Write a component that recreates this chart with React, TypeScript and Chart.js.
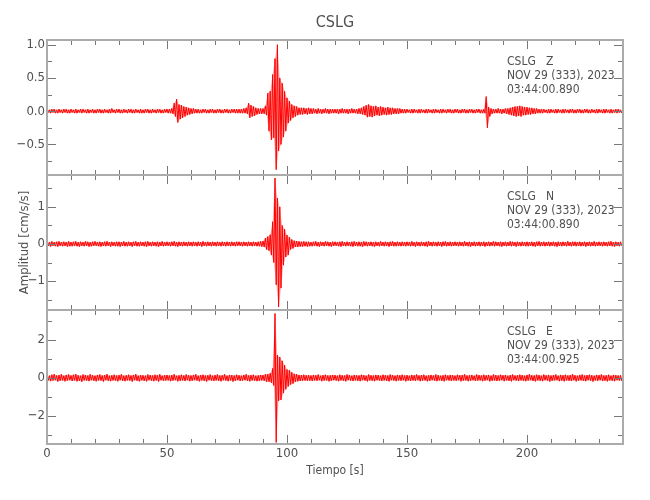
import React, { useEffect, useRef } from 'react';
import { Chart, registerables } from 'chart.js';

Chart.register(...registerables);

// ---------- text ----------
const TITLE = 'CSLG';
const X_TITLE = 'Tiempo [s]';
const Y_TITLE = 'Amplitud [cm/s/s]';
const Z_INFO = ['CSLG   Z', 'NOV 29 (333), 2023', '03:44:00.890'];
const N_INFO = ['CSLG   N', 'NOV 29 (333), 2023', '03:44:00.890'];
const E_INFO = ['CSLG   E', 'NOV 29 (333), 2023', '03:44:00.925'];

// ---------- x axis ----------
const X_MIN = 0;
const X_MAX = 240;
const X_TICKS = [0, 50, 100, 150, 200];
const X_MINOR = [0, 10, 20, 30, 40, 50, 60, 70, 80, 90, 100, 110, 120, 130, 140, 150, 160, 170, 180, 190, 200, 210, 220, 230, 240];
const BIN_S = 1; // each entry below = peak up / peak down within one second

// ---------- y axes ----------
const Z_RANGE = [-0.96, 1.07];
const Z_TICKS = [-0.5, 0, 0.5, 1];
const Z_TICK_LABELS = ['\u22120.5', '0.0', '0.5', '1.0'];
const Z_MINOR = [-0.75, -0.25, 0.25, 0.75];

const N_RANGE = [-1.78, 1.86];
const N_TICKS = [-1, 0, 1];
const N_TICK_LABELS = ['\u22121', '0', '1'];
const N_MINOR = [-1.5, -0.5, 0.5, 1.5];

const E_RANGE = [-3.48, 3.58];
const E_TICKS = [-2, 0, 2];
const E_TICK_LABELS = ['\u22122', '0', '2'];
const E_MINOR = [-3, -1, 1, 3];

// ---------- Z component (peak up / peak down per second) ----------
const Z_UP = [
  0.03, 0.02, 0.03, 0.03, 0.02, 0.03, 0.02, 0.03, 0.03, 0.02,
  0.03, 0.02, 0.03, 0.02, 0.03, 0.03, 0.02, 0.03, 0.02, 0.03,
  0.02, 0.03, 0.03, 0.02, 0.03, 0.02, 0.03, 0.04, 0.02, 0.03,
  0.03, 0.02, 0.03, 0.02, 0.03, 0.03, 0.02, 0.03, 0.02, 0.03,
  0.02, 0.03, 0.03, 0.02, 0.03, 0.02, 0.03, 0.03, 0.02, 0.03,
  0.03, 0.03, 0.04, 0.12, 0.18, 0.10, 0.09, 0.07, 0.06, 0.05,
  0.04, 0.04, 0.03, 0.03, 0.02, 0.03, 0.03, 0.02, 0.03, 0.03,
  0.02, 0.03, 0.03, 0.02, 0.03, 0.03, 0.02, 0.03, 0.03, 0.03,
  0.03, 0.03, 0.04, 0.05, 0.12, 0.09, 0.07, 0.05, 0.04, 0.04,
  0.04, 0.08, 0.27, 0.30, 0.55, 0.79, 1.00, 0.50, 0.42, 0.30,
  0.20, 0.15, 0.10, 0.08, 0.07, 0.05, 0.05, 0.05, 0.04, 0.05,
  0.04, 0.04, 0.03, 0.04, 0.03, 0.03, 0.04, 0.03, 0.03, 0.03,
  0.03, 0.03, 0.03, 0.04, 0.03, 0.03, 0.03, 0.04, 0.03, 0.03,
  0.04, 0.05, 0.07, 0.09, 0.10, 0.08, 0.07, 0.08, 0.06, 0.07,
  0.06, 0.05, 0.06, 0.05, 0.05, 0.04, 0.04, 0.04, 0.03, 0.03,
  0.03, 0.02, 0.03, 0.03, 0.02, 0.03, 0.03, 0.02, 0.03, 0.03,
  0.02, 0.03, 0.03, 0.02, 0.03, 0.03, 0.02, 0.03, 0.03, 0.02,
  0.03, 0.03, 0.02, 0.03, 0.03, 0.02, 0.03, 0.03, 0.02, 0.03,
  0.03, 0.02, 0.03, 0.22, 0.06, 0.04, 0.03, 0.03, 0.04, 0.03,
  0.03, 0.04, 0.04, 0.05, 0.06, 0.07, 0.07, 0.08, 0.07, 0.06,
  0.06, 0.05, 0.05, 0.04, 0.04, 0.03, 0.03, 0.03, 0.02, 0.03,
  0.03, 0.02, 0.03, 0.03, 0.02, 0.03, 0.03, 0.02, 0.03, 0.03,
  0.02, 0.03, 0.03, 0.02, 0.03, 0.03, 0.02, 0.03, 0.02, 0.03,
  0.03, 0.02, 0.03, 0.03, 0.02, 0.03, 0.02, 0.03, 0.03, 0.02,
];
const Z_DOWN = [
  -0.02, -0.03, -0.02, -0.03, -0.03, -0.02, -0.03, -0.02, -0.03, -0.03,
  -0.02, -0.03, -0.03, -0.02, -0.03, -0.02, -0.03, -0.03, -0.02, -0.03,
  -0.03, -0.02, -0.03, -0.03, -0.02, -0.03, -0.03, -0.02, -0.03, -0.02,
  -0.03, -0.03, -0.02, -0.03, -0.02, -0.03, -0.03, -0.02, -0.03, -0.03,
  -0.03, -0.02, -0.03, -0.03, -0.02, -0.03, -0.02, -0.03, -0.03, -0.02,
  -0.03, -0.03, -0.04, -0.08, -0.17, -0.12, -0.10, -0.08, -0.06, -0.05,
  -0.04, -0.03, -0.03, -0.03, -0.03, -0.02, -0.03, -0.03, -0.02, -0.03,
  -0.03, -0.02, -0.03, -0.03, -0.02, -0.03, -0.03, -0.02, -0.03, -0.03,
  -0.03, -0.03, -0.03, -0.04, -0.10, -0.08, -0.07, -0.05, -0.04, -0.04,
  -0.04, -0.06, -0.30, -0.43, -0.40, -0.88, -0.60, -0.50, -0.39, -0.30,
  -0.18, -0.14, -0.10, -0.08, -0.06, -0.05, -0.05, -0.04, -0.05, -0.04,
  -0.04, -0.03, -0.04, -0.03, -0.04, -0.03, -0.03, -0.04, -0.03, -0.03,
  -0.03, -0.04, -0.03, -0.03, -0.03, -0.04, -0.03, -0.03, -0.03, -0.04,
  -0.04, -0.05, -0.06, -0.09, -0.08, -0.09, -0.07, -0.06, -0.07, -0.06,
  -0.05, -0.06, -0.05, -0.05, -0.04, -0.04, -0.04, -0.03, -0.03, -0.03,
  -0.02, -0.03, -0.03, -0.02, -0.03, -0.03, -0.02, -0.03, -0.03, -0.02,
  -0.03, -0.03, -0.02, -0.03, -0.03, -0.02, -0.03, -0.02, -0.03, -0.03,
  -0.02, -0.03, -0.03, -0.02, -0.03, -0.03, -0.02, -0.03, -0.03, -0.02,
  -0.03, -0.03, -0.03, -0.25, -0.08, -0.04, -0.03, -0.03, -0.03, -0.04,
  -0.03, -0.04, -0.05, -0.06, -0.07, -0.08, -0.07, -0.08, -0.06, -0.06,
  -0.05, -0.05, -0.04, -0.04, -0.03, -0.03, -0.03, -0.02, -0.03, -0.03,
  -0.02, -0.03, -0.03, -0.02, -0.03, -0.03, -0.02, -0.03, -0.02, -0.03,
  -0.03, -0.02, -0.03, -0.03, -0.02, -0.03, -0.03, -0.02, -0.03, -0.03,
  -0.02, -0.03, -0.03, -0.02, -0.03, -0.03, -0.02, -0.03, -0.02, -0.03,
];

// ---------- N component ----------
const N_UP = [
  0.06, 0.05, 0.07, 0.05, 0.06, 0.07, 0.05, 0.06, 0.05, 0.07,
  0.05, 0.06, 0.07, 0.05, 0.06, 0.05, 0.07, 0.06, 0.05, 0.06,
  0.07, 0.05, 0.06, 0.05, 0.06, 0.07, 0.05, 0.06, 0.05, 0.06,
  0.06, 0.05, 0.07, 0.05, 0.06, 0.05, 0.06, 0.07, 0.05, 0.06,
  0.05, 0.06, 0.07, 0.05, 0.06, 0.05, 0.06, 0.05, 0.07, 0.05,
  0.06, 0.05, 0.06, 0.07, 0.05, 0.06, 0.05, 0.06, 0.05, 0.06,
  0.05, 0.06, 0.05, 0.06, 0.05, 0.07, 0.05, 0.06, 0.05, 0.06,
  0.05, 0.06, 0.05, 0.06, 0.05, 0.06, 0.05, 0.06, 0.05, 0.06,
  0.06, 0.05, 0.06, 0.05, 0.06, 0.05, 0.06, 0.05, 0.06, 0.07,
  0.08, 0.16, 0.20, 0.25, 0.60, 1.78, 1.24, 1.00, 0.50, 0.40,
  0.24, 0.18, 0.12, 0.09, 0.08, 0.07, 0.06, 0.07, 0.06, 0.06,
  0.05, 0.06, 0.07, 0.05, 0.06, 0.05, 0.07, 0.06, 0.05, 0.06,
  0.06, 0.05, 0.06, 0.07, 0.05, 0.06, 0.05, 0.06, 0.07, 0.05,
  0.06, 0.05, 0.07, 0.06, 0.05, 0.06, 0.05, 0.06, 0.05, 0.07,
  0.05, 0.06, 0.05, 0.06, 0.07, 0.05, 0.06, 0.05, 0.06, 0.05,
  0.06, 0.05, 0.07, 0.05, 0.06, 0.05, 0.06, 0.05, 0.06, 0.07,
  0.05, 0.06, 0.05, 0.06, 0.05, 0.06, 0.07, 0.05, 0.06, 0.05,
  0.06, 0.05, 0.06, 0.05, 0.07, 0.05, 0.06, 0.05, 0.06, 0.05,
  0.06, 0.05, 0.06, 0.05, 0.06, 0.05, 0.07, 0.06, 0.05, 0.06,
  0.05, 0.06, 0.05, 0.07, 0.06, 0.05, 0.06, 0.05, 0.06, 0.05,
  0.06, 0.05, 0.06, 0.05, 0.06, 0.07, 0.05, 0.06, 0.05, 0.06,
  0.05, 0.06, 0.05, 0.06, 0.05, 0.06, 0.05, 0.07, 0.05, 0.06,
  0.06, 0.05, 0.06, 0.05, 0.06, 0.05, 0.06, 0.05, 0.07, 0.05,
  0.06, 0.05, 0.06, 0.05, 0.06, 0.07, 0.05, 0.06, 0.05, 0.06,
];
const N_DOWN = [
  -0.05, -0.07, -0.05, -0.06, -0.07, -0.05, -0.06, -0.05, -0.07, -0.06,
  -0.06, -0.05, -0.06, -0.07, -0.05, -0.06, -0.05, -0.07, -0.06, -0.05,
  -0.05, -0.06, -0.07, -0.05, -0.06, -0.05, -0.07, -0.05, -0.06, -0.06,
  -0.07, -0.05, -0.06, -0.06, -0.05, -0.07, -0.05, -0.06, -0.06, -0.05,
  -0.06, -0.07, -0.05, -0.06, -0.05, -0.06, -0.07, -0.05, -0.06, -0.05,
  -0.05, -0.06, -0.05, -0.06, -0.07, -0.05, -0.06, -0.05, -0.06, -0.05,
  -0.06, -0.05, -0.06, -0.05, -0.07, -0.05, -0.06, -0.05, -0.06, -0.05,
  -0.06, -0.05, -0.06, -0.05, -0.06, -0.05, -0.06, -0.05, -0.06, -0.05,
  -0.05, -0.06, -0.05, -0.06, -0.05, -0.06, -0.05, -0.06, -0.06, -0.07,
  -0.08, -0.15, -0.18, -0.30, -0.50, -1.10, -1.70, -1.19, -0.57, -0.35,
  -0.30, -0.15, -0.12, -0.08, -0.08, -0.07, -0.07, -0.06, -0.07, -0.06,
  -0.06, -0.05, -0.06, -0.07, -0.05, -0.06, -0.05, -0.06, -0.07, -0.05,
  -0.05, -0.06, -0.07, -0.05, -0.06, -0.05, -0.06, -0.07, -0.05, -0.06,
  -0.06, -0.07, -0.05, -0.06, -0.05, -0.06, -0.07, -0.05, -0.06, -0.05,
  -0.06, -0.05, -0.07, -0.05, -0.06, -0.06, -0.05, -0.06, -0.05, -0.06,
  -0.05, -0.06, -0.05, -0.07, -0.05, -0.06, -0.05, -0.06, -0.07, -0.05,
  -0.06, -0.05, -0.06, -0.05, -0.07, -0.05, -0.06, -0.05, -0.06, -0.05,
  -0.05, -0.06, -0.05, -0.06, -0.05, -0.06, -0.07, -0.05, -0.06, -0.05,
  -0.06, -0.05, -0.07, -0.05, -0.06, -0.05, -0.06, -0.05, -0.06, -0.07,
  -0.05, -0.06, -0.05, -0.06, -0.05, -0.07, -0.05, -0.06, -0.05, -0.06,
  -0.06, -0.05, -0.06, -0.07, -0.05, -0.06, -0.05, -0.06, -0.05, -0.06,
  -0.05, -0.06, -0.07, -0.05, -0.06, -0.05, -0.06, -0.05, -0.06, -0.05,
  -0.06, -0.05, -0.06, -0.05, -0.07, -0.05, -0.06, -0.05, -0.06, -0.05,
  -0.05, -0.06, -0.05, -0.06, -0.05, -0.06, -0.07, -0.05, -0.06, -0.05,
];

// ---------- E component ----------
const E_UP = [
  0.14, 0.12, 0.17, 0.20, 0.13, 0.15, 0.19, 0.12, 0.16, 0.18,
  0.13, 0.17, 0.20, 0.14, 0.12, 0.18, 0.15, 0.13, 0.19, 0.14,
  0.12, 0.16, 0.18, 0.13, 0.15, 0.20, 0.12, 0.14, 0.17, 0.13,
  0.15, 0.19, 0.12, 0.14, 0.17, 0.13, 0.16, 0.20, 0.12, 0.15,
  0.14, 0.12, 0.18, 0.15, 0.13, 0.17, 0.14, 0.19, 0.12, 0.15,
  0.16, 0.13, 0.15, 0.19, 0.12, 0.14, 0.17, 0.13, 0.18, 0.14,
  0.13, 0.16, 0.19, 0.12, 0.15, 0.17, 0.13, 0.14, 0.18, 0.12,
  0.15, 0.18, 0.13, 0.14, 0.19, 0.12, 0.16, 0.15, 0.13, 0.17,
  0.14, 0.12, 0.16, 0.19, 0.13, 0.15, 0.17, 0.12, 0.14, 0.16,
  0.15, 0.20, 0.20, 0.25, 0.50, 3.40, 1.20, 1.10, 0.90, 0.68,
  0.45, 0.40, 0.30, 0.22, 0.20, 0.16, 0.15, 0.17, 0.14, 0.15,
  0.13, 0.16, 0.14, 0.18, 0.12, 0.15, 0.17, 0.13, 0.14, 0.16,
  0.15, 0.12, 0.17, 0.14, 0.13, 0.18, 0.15, 0.12, 0.16, 0.14,
  0.13, 0.17, 0.15, 0.12, 0.18, 0.14, 0.13, 0.16, 0.15, 0.12,
  0.17, 0.14, 0.13, 0.18, 0.15, 0.12, 0.16, 0.14, 0.17, 0.13,
  0.15, 0.12, 0.16, 0.14, 0.18, 0.13, 0.15, 0.17, 0.12, 0.14,
  0.16, 0.13, 0.18, 0.15, 0.12, 0.14, 0.17, 0.13, 0.16, 0.15,
  0.12, 0.17, 0.14, 0.15, 0.19, 0.13, 0.14, 0.16, 0.12, 0.18,
  0.15, 0.13, 0.17, 0.14, 0.16, 0.12, 0.18, 0.15, 0.13, 0.17,
  0.14, 0.16, 0.12, 0.15, 0.18, 0.13, 0.14, 0.17, 0.15, 0.12,
  0.16, 0.19, 0.14, 0.13, 0.17, 0.15, 0.12, 0.18, 0.14, 0.16,
  0.13, 0.15, 0.18, 0.12, 0.16, 0.14, 0.17, 0.13, 0.15, 0.19,
  0.14, 0.12, 0.16, 0.18, 0.13, 0.15, 0.17, 0.14, 0.12, 0.16,
  0.15, 0.18, 0.13, 0.14, 0.17, 0.12, 0.16, 0.15, 0.13, 0.14,
];
const E_DOWN = [
  -0.13, -0.17, -0.14, -0.12, -0.19, -0.15, -0.13, -0.18, -0.14, -0.12,
  -0.16, -0.13, -0.18, -0.15, -0.20, -0.13, -0.14, -0.17, -0.12, -0.15,
  -0.18, -0.13, -0.14, -0.19, -0.12, -0.15, -0.17, -0.13, -0.14, -0.18,
  -0.12, -0.15, -0.17, -0.13, -0.14, -0.19, -0.12, -0.15, -0.18, -0.13,
  -0.15, -0.18, -0.12, -0.14, -0.17, -0.13, -0.19, -0.12, -0.15, -0.14,
  -0.13, -0.17, -0.14, -0.12, -0.18, -0.15, -0.13, -0.16, -0.12, -0.17,
  -0.15, -0.12, -0.14, -0.18, -0.13, -0.15, -0.19, -0.12, -0.14, -0.16,
  -0.13, -0.15, -0.18, -0.12, -0.14, -0.17, -0.13, -0.19, -0.15, -0.12,
  -0.16, -0.14, -0.12, -0.15, -0.18, -0.13, -0.14, -0.17, -0.15, -0.13,
  -0.15, -0.20, -0.20, -0.25, -0.40, -3.40, -1.20, -1.16, -0.80, -0.60,
  -0.45, -0.35, -0.30, -0.20, -0.18, -0.16, -0.15, -0.14, -0.15, -0.14,
  -0.16, -0.13, -0.15, -0.12, -0.17, -0.14, -0.13, -0.18, -0.15, -0.12,
  -0.14, -0.17, -0.13, -0.15, -0.18, -0.12, -0.14, -0.16, -0.13, -0.15,
  -0.17, -0.12, -0.14, -0.18, -0.13, -0.15, -0.17, -0.12, -0.14, -0.16,
  -0.13, -0.15, -0.18, -0.12, -0.14, -0.17, -0.13, -0.15, -0.12, -0.18,
  -0.14, -0.16, -0.13, -0.15, -0.12, -0.17, -0.14, -0.13, -0.18, -0.15,
  -0.12, -0.14, -0.17, -0.13, -0.15, -0.18, -0.12, -0.14, -0.16, -0.13,
  -0.15, -0.12, -0.18, -0.14, -0.13, -0.17, -0.15, -0.12, -0.16, -0.14,
  -0.13, -0.17, -0.14, -0.12, -0.18, -0.15, -0.13, -0.16, -0.14, -0.12,
  -0.17, -0.13, -0.15, -0.18, -0.12, -0.14, -0.16, -0.13, -0.15, -0.17,
  -0.14, -0.12, -0.16, -0.18, -0.13, -0.15, -0.17, -0.12, -0.14, -0.19,
  -0.15, -0.13, -0.12, -0.17, -0.14, -0.18, -0.13, -0.15, -0.16, -0.12,
  -0.18, -0.14, -0.13, -0.15, -0.17, -0.12, -0.14, -0.19, -0.13, -0.15,
  -0.12, -0.16, -0.14, -0.18, -0.13, -0.15, -0.17, -0.12, -0.14, -0.16,
];

// ---------- style ----------
const FONT = "'Liberation Sans Narrow', 'DejaVu Sans Condensed', 'Liberation Sans', sans-serif";
const TEXT_COLOR = '#505050';
const TRACE_COLOR = '#ff0000';
const ENVELOPE_FILL = 'rgba(255, 0, 0, 0.3)';
const FRAME_COLOR = '#ababab';
const TICK_COLOR = '#777777';
const CANVAS_W = 650;
const CANVAS_H = 500;

type Panel = {
  up: number[];
  down: number[];
  range: number[];
  ticks: number[];
  labels: string[];
  minor: number[];
  info: string[];
  top: number;
  bottom: number;
};

const PANELS: Panel[] = [
  { up: Z_UP, down: Z_DOWN, range: Z_RANGE, ticks: Z_TICKS, labels: Z_TICK_LABELS, minor: Z_MINOR, info: Z_INFO, top: 40, bottom: 175 },
  { up: N_UP, down: N_DOWN, range: N_RANGE, ticks: N_TICKS, labels: N_TICK_LABELS, minor: N_MINOR, info: N_INFO, top: 175, bottom: 310 },
  { up: E_UP, down: E_DOWN, range: E_RANGE, ticks: E_TICKS, labels: E_TICK_LABELS, minor: E_MINOR, info: E_INFO, top: 310, bottom: 444 },
];

// sample times: peak up at start of each second, peak down at its middle
const upPoints = (up: number[]) => up.map((v, i) => ({ x: X_MIN + i * BIN_S, y: v }));
const downPoints = (down: number[]) => down.map((v, i) => ({ x: X_MIN + i * BIN_S + BIN_S / 2, y: v }));

function tracePoints(up: number[], down: number[]) {
  const u = upPoints(up);
  const d = downPoints(down);
  const pts: { x: number; y: number }[] = [];
  for (let i = 0; i < u.length; i++) {
    pts.push(u[i]);
    pts.push(d[i]);
  }
  return pts;
}

const framePlugin = {
  id: 'seisFrame',
  afterDatasetsDraw(chart: any, _args: any, opts: any) {
    const { ctx, chartArea: a } = chart;
    const xs = chart.scales.x;
    const ys = chart.scales.y;
    ctx.save();
    // inside tick marks
    ctx.strokeStyle = TICK_COLOR;
    ctx.lineWidth = 1;
    ctx.beginPath();
    for (const v of X_MINOR) {
      const p = Math.round(xs.getPixelForValue(v)) + 0.5;
      const len = X_TICKS.includes(v) ? 9 : 5;
      ctx.moveTo(p, a.top);
      ctx.lineTo(p, a.top + len);
      ctx.moveTo(p, a.bottom);
      ctx.lineTo(p, a.bottom - len);
    }
    const yMarks: [number, number][] = [
      ...opts.major.map((v: number) => [v, 9] as [number, number]),
      ...opts.minor.map((v: number) => [v, 5] as [number, number]),
    ];
    for (const [v, len] of yMarks) {
      const p = Math.round(ys.getPixelForValue(v)) + 0.5;
      ctx.moveTo(a.left, p);
      ctx.lineTo(a.left + len, p);
      ctx.moveTo(a.right, p);
      ctx.lineTo(a.right - len, p);
    }
    ctx.stroke();
    // frame
    ctx.strokeStyle = FRAME_COLOR;
    ctx.lineWidth = 2;
    ctx.strokeRect(a.left, a.top, a.right - a.left, a.bottom - a.top);
    // station / date annotation
    ctx.fillStyle = TEXT_COLOR;
    ctx.font = `12px ${FONT}`;
    ctx.textAlign = 'left';
    ctx.textBaseline = 'middle';
    opts.info.forEach((s: string, i: number) => {
      ctx.fillText(s, a.right - 116, a.top + 22 + i * 14);
    });
    if (opts.title) {
      ctx.font = `16px ${FONT}`;
      ctx.textAlign = 'center';
      ctx.fillText(opts.title, (a.left + a.right) / 2, a.top - 17);
    }
    ctx.restore();
  },
};

function buildConfig(p: Panel, idx: number): any {
  const isBottom = idx === 2;
  return {
    type: 'line',
    data: {
      datasets: [
        {
          data: upPoints(p.up),
          borderWidth: 0,
          borderColor: 'rgba(0,0,0,0)',
          pointRadius: 0,
          fill: false,
          tension: 0,
        },
        {
          data: downPoints(p.down),
          borderWidth: 0,
          borderColor: 'rgba(0,0,0,0)',
          backgroundColor: ENVELOPE_FILL,
          pointRadius: 0,
          fill: '-1',
          tension: 0,
        },
        {
          data: tracePoints(p.up, p.down),
          borderColor: TRACE_COLOR,
          borderWidth: 1,
          pointRadius: 0,
          fill: false,
          tension: 0,
        },
      ],
    },
    options: {
      animation: false,
      responsive: false,
      devicePixelRatio: 1,
      events: [],
      layout: {
        padding: { top: p.top, bottom: isBottom ? 0 : CANVAS_H - p.bottom, left: 0, right: 27 },
      },
      plugins: {
        legend: { display: false },
        tooltip: { enabled: false },
        filler: { propagate: false },
        seisFrame: {
          major: p.ticks,
          minor: p.minor,
          info: p.info,
          title: idx === 0 ? TITLE : '',
        },
      },
      scales: {
        x: {
          type: 'linear',
          min: X_MIN,
          max: X_MAX,
          display: isBottom,
          afterBuildTicks: (s: any) => {
            s.ticks = X_TICKS.map((v) => ({ value: v }));
          },
          afterFit: (s: any) => {
            s.height = isBottom ? CANVAS_H - p.bottom : 0;
          },
          grid: { display: false, drawTicks: false, tickLength: 0 },
          border: { display: false },
          ticks: {
            autoSkip: false,
            maxRotation: 0,
            padding: 2,
            color: TEXT_COLOR,
            font: { family: FONT, size: 13 },
            callback: (v: number) => String(v),
          },
          title: {
            display: true,
            text: X_TITLE,
            color: TEXT_COLOR,
            font: { family: FONT, size: 12 },
            padding: { top: 0, bottom: 22 },
          },
        },
        y: {
          type: 'linear',
          min: p.range[0],
          max: p.range[1],
          afterBuildTicks: (s: any) => {
            s.ticks = p.ticks.map((v) => ({ value: v }));
          },
          afterFit: (s: any) => {
            s.width = 47;
          },
          grid: { display: false, drawTicks: false, tickLength: 0 },
          border: { display: false },
          ticks: {
            padding: 2,
            color: TEXT_COLOR,
            font: { family: FONT, size: 13 },
            callback: (v: number) => {
              const i = p.ticks.indexOf(v);
              return i >= 0 ? p.labels[i] : '';
            },
          },
          title: {
            display: idx === 1,
            text: Y_TITLE,
            color: TEXT_COLOR,
            font: { family: FONT, size: 13 },
            padding: { top: 17, bottom: 0 },
          },
        },
      },
    },
    plugins: [framePlugin],
  };
}

export default function App() {
  const r1 = useRef<HTMLCanvasElement>(null);
  const r2 = useRef<HTMLCanvasElement>(null);
  const r3 = useRef<HTMLCanvasElement>(null);

  useEffect(() => {
    const refs = [r1, r2, r3];
    const charts = refs.map((r, i) => new Chart(r.current as HTMLCanvasElement, buildConfig(PANELS[i], i)));
    return () => charts.forEach((c) => c.destroy());
  }, []);

  const canvasStyle: React.CSSProperties = {
    position: 'absolute',
    left: 0,
    top: 0,
    width: CANVAS_W,
    height: CANVAS_H,
  };

  return (
    <div style={{ position: 'fixed', left: 0, top: 0, width: CANVAS_W, height: CANVAS_H, background: '#ffffff' }}>
      <canvas ref={r1} width={CANVAS_W} height={CANVAS_H} style={canvasStyle} />
      <canvas ref={r2} width={CANVAS_W} height={CANVAS_H} style={canvasStyle} />
      <canvas ref={r3} width={CANVAS_W} height={CANVAS_H} style={canvasStyle} />
    </div>
  );
}
